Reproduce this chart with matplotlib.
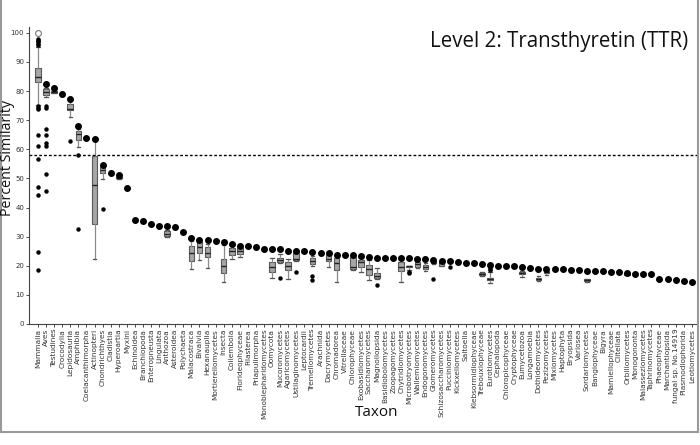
import matplotlib
matplotlib.use("Agg")
import matplotlib.pyplot as plt
from matplotlib.lines import Line2D

taxa = ["Mammalia", "Aves", "Testudines", "Crocodylia", "Lepidosauria", "Amphibia",
        "Coelacanthimorpha", "Actinopteri", "Chondrichthyes", "Cladistia", "Hyperoartia",
        "Myxini", "Echinoidea", "Branchiopoda", "Enteropneusta", "Lingulata", "Anthozoa",
        "Asteroidea", "Polychaeta", "Malacostraca", "Bivalvia", "Hexanauplia",
        "Mortierellomycetes", "Insecta", "Collembola", "Florideophyceae", "Filasterea",
        "Priapulimorpha", "Monoblepharidomycetes", "Oomycota", "Mucoromycetes",
        "Agaricomycetes", "Ustilaginomycetes", "Leptocardii", "Tremellomycetes",
        "Arachnida", "Dacrymycetes", "Chromadorea", "Vitrellaceae", "Chlorophyceae",
        "Exobasidiomycetes", "Saccharomycetes", "Magnoliopsida", "Basidiobolomycetes",
        "Zoopagomycetes", "Chytridiomycetes", "Microbotryomycetes", "Wallemiomycetes",
        "Endogonomycetes", "Glomeromycetes", "Schizosaccharomycetes", "Pucciniomycetes",
        "Kickxellomycetes", "Saitoella", "Klebsormidiophyceae", "Trebouxiophyceae",
        "Eurotiomycetes", "Cephalopoda", "Chloropicophyceae", "Cryptophyceae",
        "Eumycetozoa", "Longamoebia", "Dothideomycetes", "Pezizomycetes", "Mixiomycetes",
        "Haptophyta", "Bryopsida", "Variosea", "Sordariomycetes", "Bangiophyceae",
        "Bigyra", "Mamiellophyceae", "Clitellata", "Orbiliomycetes", "Monogononta",
        "Malasseziomycetes", "Taphrinomycetes", "Phaeophyceae", "Marchantiopsida",
        "fungal sp. No.14919", "Plasmodiophorida", "Leotiomycetes"]

# best hit per taxon (large dots)
max_vals = [100.0, 82.3, 81.0, 79.0, 77.3, 68.0,
            63.8, 63.6, 54.7, 51.8, 51.3,
            46.8, 35.6, 35.4, 34.5, 33.7, 33.7,
            33.4, 31.5, 29.6, 28.7, 28.7,
            28.5, 28.3, 27.6, 26.9, 26.9,
            26.3, 25.9, 25.9, 25.9,
            25.1, 25.1, 25.1, 24.7,
            24.5, 24.3, 23.8, 23.6, 23.6,
            23.2, 22.9, 22.8, 22.8,
            22.8, 22.7, 22.6, 22.4,
            22.4, 22.0, 21.7, 21.5,
            21.2, 21.1, 20.9, 20.5,
            20.3, 20.0, 20.0, 19.9,
            19.5, 19.1, 18.9, 19.0, 18.9,
            18.9, 18.5, 18.5, 18.3, 18.3,
            18.1, 17.9, 17.7, 17.6, 17.2,
            17.1, 17.1, 15.4, 15.3,
            15.1, 14.9, 14.5]

# box plot statistics for taxa with several hits
box_taxa = ["Mammalia", "Aves", "Testudines", "Lepidosauria", "Amphibia", "Actinopteri",
            "Chondrichthyes", "Hyperoartia", "Anthozoa", "Malacostraca", "Bivalvia",
            "Hexanauplia", "Insecta", "Collembola", "Florideophyceae", "Oomycota",
            "Mucoromycetes", "Agaricomycetes", "Ustilaginomycetes", "Tremellomycetes",
            "Dacrymycetes", "Chromadorea", "Chlorophyceae", "Exobasidiomycetes",
            "Saccharomycetes", "Magnoliopsida", "Chytridiomycetes", "Microbotryomycetes",
            "Wallemiomycetes", "Endogonomycetes", "Glomeromycetes", "Schizosaccharomycetes",
            "Trebouxiophyceae", "Eurotiomycetes", "Eumycetozoa", "Dothideomycetes",
            "Pezizomycetes", "Sordariomycetes", "Orbiliomycetes"]
box_lo = [75.3, 78.0, 79.3, 71.2, 60.9, 22.2, 49.8, 49.9, 30.0, 18.8, 22.0,
          19.3, 14.5, 22.3, 23.1, 15.7, 21.0, 15.3, 21.5, 19.8,
          19.7, 14.5, 18.6, 17.7, 15.1, 15.5, 14.5, 18.5,
          19.3, 18.3, 20.5, 19.8, 16.5, 14.0, 16.0, 14.8,
          17.0, 14.5, 16.9]
box_q1 = [83.1, 78.6, 79.5, 73.4, 63.2, 34.2, 51.7, 50.0, 30.2, 21.6, 24.5,
          23.1, 17.6, 23.7, 23.9, 18.0, 21.2, 18.5, 22.0, 20.5,
          21.7, 18.5, 18.8, 19.7, 16.8, 15.9, 18.3, 19.6,
          19.7, 18.8, 20.8, 20.0, 16.8, 15.1, 17.2, 15.1,
          17.4, 14.8, 17.0]
box_med = [84.8, 79.7, 79.7, 74.0, 65.1, 47.8, 53.0, 50.3, 31.0, 24.3, 26.3,
           24.5, 19.8, 25.1, 25.1, 19.7, 21.9, 19.9, 22.3, 21.8,
           22.3, 20.8, 19.5, 21.2, 18.9, 16.6, 19.7, 19.8,
           20.6, 19.6, 21.1, 20.8, 17.2, 15.5, 17.6, 15.5,
           17.8, 15.1, 17.1]
box_q3 = [88.0, 80.6, 79.9, 75.7, 66.2, 57.7, 54.0, 50.6, 31.9, 26.8, 28.0,
          26.3, 22.2, 26.0, 26.0, 21.4, 22.5, 21.2, 24.3, 22.5,
          23.7, 22.8, 22.9, 22.0, 20.3, 17.4, 21.4, 19.9,
          21.4, 20.3, 21.5, 21.4, 17.6, 15.9, 18.0, 15.9,
          18.3, 15.4, 17.3]
box_hi = [95.3, 81.0, 80.1, 76.5, 67.0, 63.0, 54.3, 51.0, 32.2, 28.5, 28.3,
          27.5, 27.1, 26.8, 26.3, 22.5, 23.9, 22.3, 24.6, 23.2,
          24.0, 23.3, 23.2, 22.6, 22.0, 19.1, 22.0, 19.9,
          21.8, 21.0, 21.7, 21.5, 17.8, 18.0, 18.3, 16.6,
          18.6, 15.6, 17.4]
box_fliers = [[74.8, 74.3, 74.0, 65.0, 61.3, 56.6, 47.0, 44.2, 24.7, 18.4,
               95.8, 96.3, 96.8, 97.2, 97.6, 98.0],
              [74.8, 74.2, 66.8, 65.0, 62.0, 61.3, 51.4, 45.8],
              [], [63.0], [58.1, 32.6], [], [39.6], [], [], [], [],
              [], [], [], [], [], [15.7], [], [18.0], [16.5, 15.1],
              [], [], [], [], [], [13.4], [], [18.0, 17.6],
              [], [], [15.3], [], [], [19.6, 19.0, 18.5], [], [],
              [], [], []]

# isolated additional hits
extra_taxa = ["Pucciniomycetes"]
extra_vals = [19.7]

threshold = 58.2
title = "Level 2: Transthyretin (TTR)"

fig = plt.figure(figsize=(7.0, 4.45), dpi=100)
ax = fig.add_axes([29 / 700, 121 / 445, 668 / 700, 297 / 445])

pos = {t: i for i, t in enumerate(taxa)}
stats = []
for k, t in enumerate(box_taxa):
    stats.append(dict(whislo=box_lo[k], q1=box_q1[k], med=box_med[k], q3=box_q3[k],
                      whishi=box_hi[k], fliers=box_fliers[k], label=t))
ax.bxp(stats, positions=[pos[t] for t in box_taxa], widths=0.7, patch_artist=True,
       showfliers=True, manage_ticks=False,
       boxprops=dict(facecolor="#a6a6a6", edgecolor="#5a5a5a", linewidth=0.8),
       medianprops=dict(color="#222222", linewidth=1.0),
       whiskerprops=dict(color="#8a8a8a", linewidth=0.9),
       capprops=dict(color="#555555", linewidth=0.9), capwidths=0.45,
       flierprops=dict(marker="o", markersize=2.2, markerfacecolor="black",
                       markeredgecolor="black", linestyle="none"))

ax.plot([pos[t] for t in extra_taxa], extra_vals, "o", color="black", ms=2.2,
        linestyle="none", zorder=3)

xs = list(range(len(taxa)))
ax.plot(xs[1:], max_vals[1:], "o", color="black", ms=4.0, linestyle="none", zorder=4)
ax.plot(xs[:1], max_vals[:1], "o", mfc="white", mec="#777777", mew=0.8, ms=4.2,
        linestyle="none", zorder=4)

ax.axhline(threshold, color="black", linestyle=(0, (2, 1.5)), linewidth=1.0, zorder=2)

ax.set_xlim(-1.12, 81.65)
ax.set_ylim(0, 102)
ax.set_yticks(range(0, 101, 10))
ax.set_xticks(xs)
ax.set_xticklabels(taxa, rotation=90, fontsize=5.3, color="#333333")
ax.tick_params(axis="y", labelsize=5.0, length=2.5, width=0.6, pad=1.0, colors="#333333")
ax.tick_params(axis="x", length=2, width=0.5, pad=1.5)
for s in ["top", "right"]:
    ax.spines[s].set_visible(False)
for s in ["left", "bottom"]:
    ax.spines[s].set_color("#444444")
    ax.spines[s].set_linewidth(0.8)

fig.text(688 / 700, 1 - 41 / 445, title, ha="right", va="center",
         fontsize=14.8, family="Open Sans", color="#111111")
fig.text(7.5 / 700, 1 - 158 / 445, "Percent Similarity", rotation=90, ha="center",
         va="center", fontsize=10.3, family="Open Sans", color="#111111")
fig.text(377 / 700, 1 - 413 / 445, "Taxon", ha="center", va="center",
         fontsize=11, family="Open Sans", color="#111111")

border = dict(transform=fig.transFigure, color="#999999", lw=1.5)
fig.add_artist(Line2D([1.0 / 700, 1.0 / 700], [1 - 432 / 445, 1], **border))
fig.add_artist(Line2D([1.0 / 700, 697.5 / 700], [1 - 432 / 445, 1 - 432 / 445], **border))
fig.add_artist(Line2D([697.5 / 700, 697.5 / 700], [1 - 432 / 445, 1], **border))

fig.savefig("out.png", dpi=100)
